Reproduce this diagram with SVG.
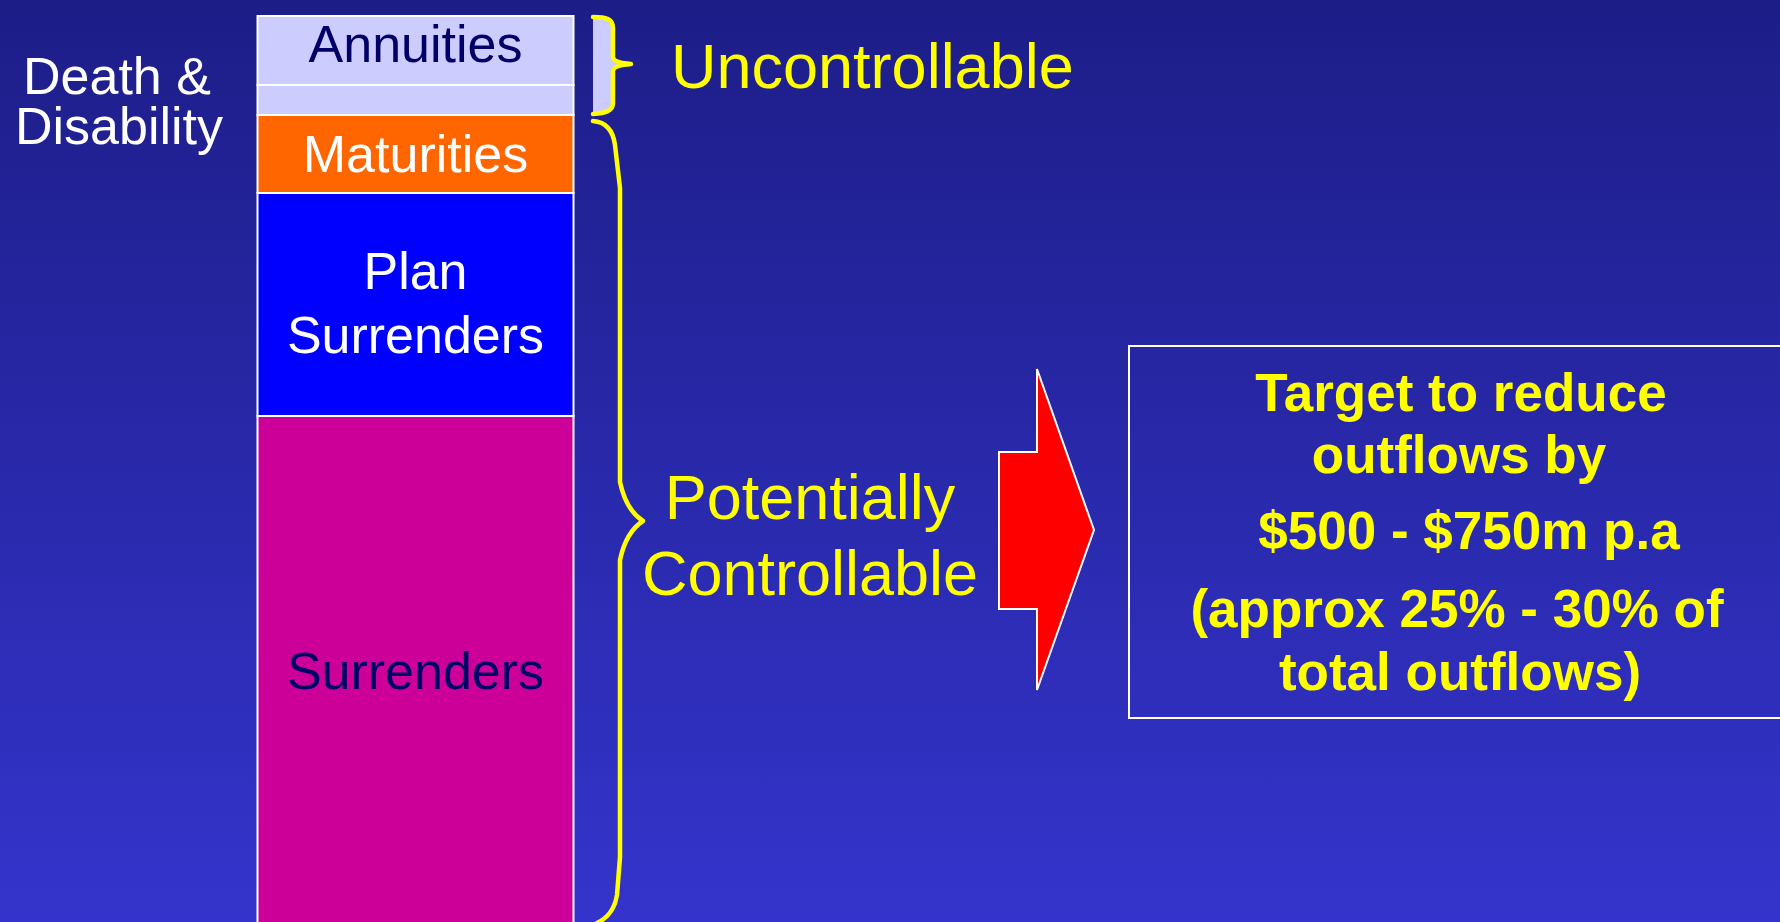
<svg xmlns="http://www.w3.org/2000/svg" width="1780" height="922" viewBox="0 0 1780 922">
  <defs>
    <linearGradient id="bg" x1="0" y1="0" x2="0" y2="1">
      <stop offset="0" stop-color="#1D1D88"/>
      <stop offset="1" stop-color="#3434CC"/>
    </linearGradient>
  </defs>
  <style>
    .seg { stroke: #FFFFFF; stroke-width: 2; }
    .lbl { font-family: "Liberation Sans", Arial, sans-serif; font-size: 52px; text-anchor: middle; }
    .side { font-family: "Liberation Sans", Arial, sans-serif; font-size: 52px; fill: #FFFFFF; }
    .brace { stroke: #FFFF00; stroke-width: 4.5; stroke-linejoin: round; stroke-linecap: round; }
    .yl { font-family: "Liberation Sans", Arial, sans-serif; font-size: 63px; fill: #FFFF00; }
    .bold { font-family: "Liberation Sans", Arial, sans-serif; font-size: 53px; font-weight: bold; fill: #FFFF00; text-anchor: middle; }
  </style>

  <rect x="0" y="0" width="1780" height="922" fill="url(#bg)"/>

  <!-- stacked outflow column -->
  <g id="annuities">
    <rect class="seg" x="257.5" y="16" width="316" height="69" fill="#CCCCFF"/>
    <text class="lbl" x="415.5" y="62" fill="#000066">Annuities</text>
  </g>
  <g id="death-disability">
    <rect class="seg" x="257.5" y="85" width="316" height="30" fill="#CCCCFF"/>
    <text class="side" x="23" y="94">Death &amp;</text>
    <text class="side" x="15" y="144">Disability</text>
  </g>
  <g id="maturities">
    <rect class="seg" x="257.5" y="115" width="316" height="78" fill="#FF6600"/>
    <text class="lbl" x="415.5" y="172" fill="#FFFFFF">Maturities</text>
  </g>
  <g id="plan-surrenders">
    <rect class="seg" x="257.5" y="193" width="316" height="223" fill="#0000FF"/>
    <text class="lbl" x="415.5" y="289" fill="#FFFFFF">Plan</text>
    <text class="lbl" x="415.5" y="353" fill="#FFFFFF">Surrenders</text>
  </g>
  <g id="surrenders">
    <rect class="seg" x="257.5" y="416" width="316" height="510" fill="#CC0099"/>
    <text class="lbl" x="415.5" y="689" fill="#000066">Surrenders</text>
  </g>

  <!-- braces grouping the segments, and the arrow to the target -->
  <g id="connectors">
    <path class="brace" fill="#CCCCFF" d="M593,17 C606,17 613,19 613,28 L613,57 C613,61 620,63 631,64 C620,65 613,67 613,71 L613,103 C613,111 606,113 593,114"/>
    <path class="brace" fill="none" d="M593,121 C606,122 613,130 615,145 L620,188 L620,482 Q626,510 643,521 Q626,532 620,560 L620,857 L617,895 Q614,915 597,923"/>
    <polygon fill="#FF0000" stroke="#FFFFFF" stroke-width="2" points="999,452 1037,452 1037,369 1094,530 1037,690 1037,609 999,609"/>
  </g>

  <g id="uncontrollable">
    <text class="yl" x="671" y="88">Uncontrollable</text>
  </g>
  <g id="potentially-controllable">
    <text class="yl" x="810" y="519" text-anchor="middle">Potentially</text>
    <text class="yl" x="810" y="595" text-anchor="middle">Controllable</text>
  </g>

  <g id="target">
    <rect x="1129" y="346" width="680" height="372" fill="none" stroke="#FFFFFF" stroke-width="2"/>
    <text class="bold" x="1461" y="411">Target to reduce</text>
    <text class="bold" x="1459" y="473">outflows by</text>
    <text class="bold" x="1469" y="549">$500 - $750m p.a</text>
    <text class="bold" x="1457" y="627">(approx 25% - 30% of</text>
    <text class="bold" x="1460" y="690">total outflows)</text>
  </g>
</svg>
